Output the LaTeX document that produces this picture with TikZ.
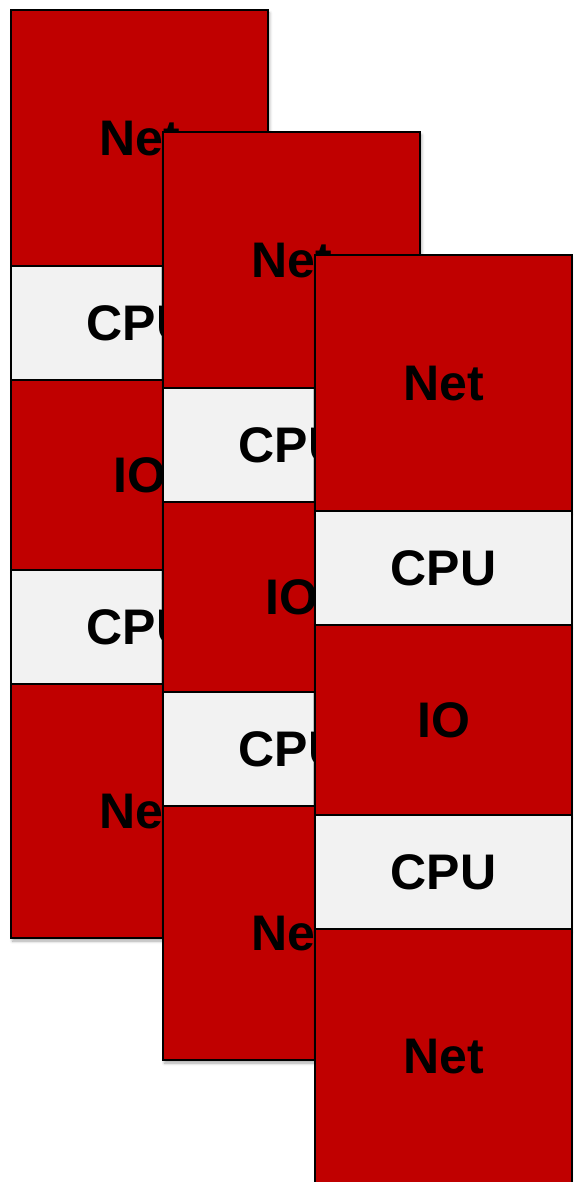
\documentclass[tikz,border=0pt]{standalone}
\usepackage{fontspec}
\setmainfont{Liberation Sans}
\usetikzlibrary{shadows.blur}
\definecolor{netred}{HTML}{C00000}
\definecolor{cpugray}{HTML}{F2F2F2}
\begin{document}
\begin{tikzpicture}[x=1pt,y=-1pt,
  blk/.style={draw=black, line width=1.8pt, anchor=north west, inner sep=0pt, outer sep=0pt,
    minimum width=257pt, font=\fontsize{50}{50}\selectfont\bfseries, text depth=-2pt,
    blur shadow={shadow xshift=1.5pt, shadow yshift=-3pt, shadow blur steps=6, shadow opacity=35, shadow blur radius=3pt}},
  netbox/.style={blk, fill=netred},
  cpubox/.style={blk, fill=cpugray},
  iobox/.style={blk, fill=netred}]
\useasboundingbox (0,0) rectangle (573,1182);
\clip (0,0) rectangle (573,1182);
\foreach \i/\x/\y in {1/11/10, 2/163/132, 3/315/255} {
  \node[netbox, minimum height=256pt] (n\i a) at (\x,\y) {Net};
  \node[cpubox, minimum height=114pt] (c\i a) at (\x,\y+256) {CPU};
  \node[iobox, minimum height=190pt] (io\i) at (\x,\y+370) {IO};
  \node[cpubox, minimum height=114pt] (c\i b) at (\x,\y+560) {CPU};
  \node[netbox, minimum height=254pt] (n\i b) at (\x,\y+674) {Net};
}
\end{tikzpicture}
\end{document}
